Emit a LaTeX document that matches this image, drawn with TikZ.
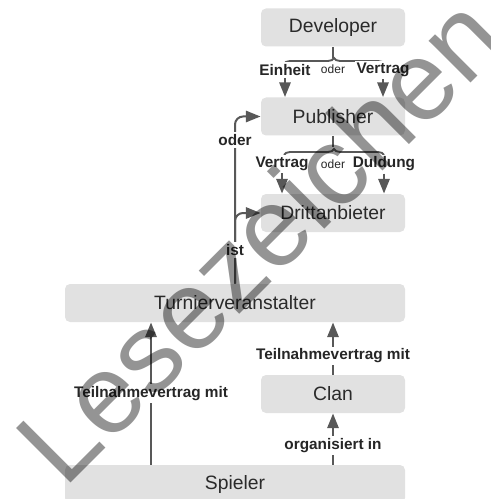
\documentclass[tikz,border=0pt]{standalone}
\usepackage{fontspec}
\setmainfont{Liberation Sans}
\usetikzlibrary{arrows.meta,decorations.pathreplacing}

\definecolor{boxgrey}{RGB}{225,225,225}
\definecolor{linegrey}{RGB}{88,88,88}
\definecolor{txtgrey}{RGB}{42,42,42}

\tikzset{every picture/.style={line width=0.75pt}}
\tikzset{
  box/.style={fill=boxgrey, rounded corners=3.75pt, inner sep=0pt, minimum height=28.5pt,
    text=txtgrey, font=\fontsize{14.5}{17}\selectfont},
  smallbox/.style={box, minimum width=108pt},
  widebox/.style={box, minimum width=255pt},
  lbl/.style={fill=white, inner sep=1.5pt, text=black!85, font=\bfseries\fontsize{11.5}{13}\selectfont},
  orlbl/.style={inner sep=1pt, text=black!85, font=\fontsize{9}{11}\selectfont},
  conn/.style={draw=linegrey, line width=1.5pt, -{Triangle[width=8.5pt,length=11pt]}},
  bracket/.style={draw=linegrey, line width=1.4pt, decorate, decoration={brace, amplitude=4.5pt}},
  watermark/.style={text=black, text opacity=0.42, inner sep=0pt, font=\fontsize{84}{86}\selectfont}
}

\begin{document}
\begin{tikzpicture}[x=0.75pt,y=0.75pt,yscale=-1,xscale=1]
\path[use as bounding box] (0,0) rectangle (490,499);
\clip (0,0) rectangle (490,499);

% Boxes
\node[smallbox] (dev) at (333,27.5) {Developer};
\node[smallbox] (pub) at (333,116.5) {Publisher};
\node[smallbox] (dritt) at (333,213) {Drittanbieter};
\node[widebox] (turn) at (235,303) {Turnierveranstalter};
\node[smallbox] (clan) at (333,394) {Clan};
\node[widebox] (spieler) at (235,484) {Spieler};

% Developer -> Publisher
\draw[draw=linegrey, line width=1.4pt] (dev.south) -- ++(0,11);
\draw[bracket] (284,64) -- (384,64);
\node[lbl] (einheit) at (285,70) {Einheit};
\node[orlbl] (oder1) at (333,69) {oder};
\node[lbl] (vertrag1) at (383,70) {Vertrag};
\draw[conn] (einheit.south) -- (einheit.south |- pub.north);
\draw[conn] (vertrag1.south) -- (vertrag1.south |- pub.north);

% Publisher -> Drittanbieter
\draw[draw=linegrey, line width=1.4pt] (pub.south) -- ++(0,11);
\draw[bracket] (284,155) -- (384,155);
\node[lbl] (vertrag2) at (282,164) {Vertrag};
\node[orlbl] (oder2) at (333,164) {oder};
\node[lbl] (duldung) at (384,164) {Duldung};
\draw[conn] (vertrag2.south) -- (vertrag2.south |- dritt.north);
\draw[conn] (duldung.south) -- (duldung.south |- dritt.north);

% Turnierveranstalter -> Publisher / Drittanbieter
\draw[conn, rounded corners=6pt] (turn.north) |- (pub.west);
\draw[conn, rounded corners=6pt] (turn.north) |- (dritt.west);
\node[lbl] (oder3) at (235,140) {oder};
\node[lbl] (ist) at (235,250) {ist};

% Spieler / Clan -> Turnierveranstalter
\draw[conn] ([xshift=-63pt]spieler.north) -- node[lbl] (teiln1) {Teilnahmevertrag mit} ([xshift=-63pt]turn.south);
\draw[conn] (clan.south |- spieler.north) -- node[lbl, pos=0.37] (orga) {organisiert in} (clan.south);
\draw[conn] (clan.north) -- node[lbl, pos=0.36] (teiln2) {Teilnahmevertrag mit} (clan.north |- turn.south);

% Watermark
\node[watermark, rotate=45, anchor=base] (mark) at (287,267) {Lesezeichen};

\end{tikzpicture}
\end{document}
